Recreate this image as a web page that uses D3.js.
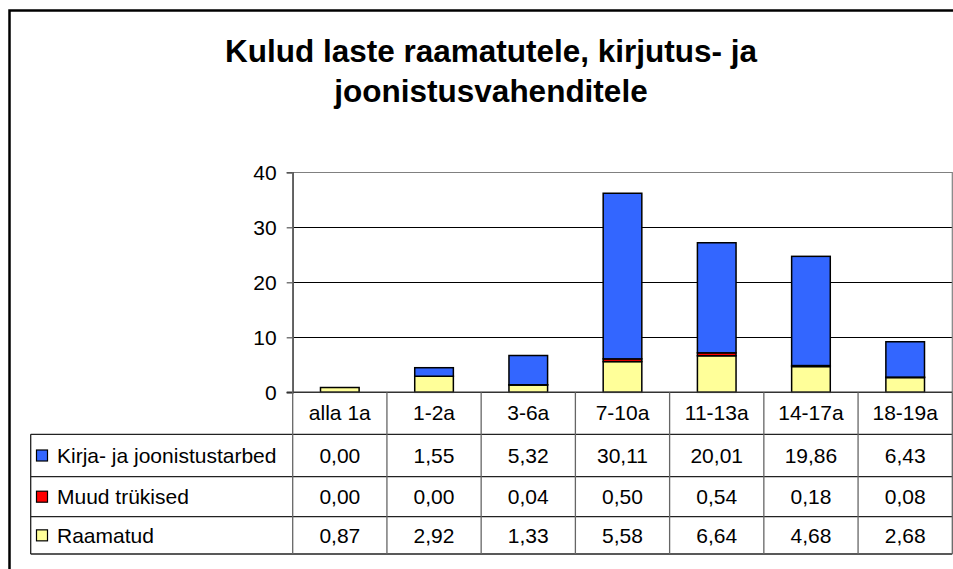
<!DOCTYPE html>
<html><head><meta charset="utf-8">
<script src="https://cdn.jsdelivr.net/npm/d3@7"></script>
<style>
html,body{margin:0;padding:0;background:#fff;overflow:hidden;}
svg{display:block;font-family:"Liberation Sans",Arial,sans-serif;}
</style></head>
<body>
<svg id="chart" width="953" height="569"></svg>
<script>
const titleLines = ["Kulud laste raamatutele, kirjutus- ja", "joonistusvahenditele"];
const categories = ["alla 1a", "1-2a", "3-6a", "7-10a", "11-13a", "14-17a", "18-19a"];
const seriesNames = ["Kirja- ja joonistustarbed", "Muud trükised", "Raamatud"];
const seriesColors = ["#3366FF", "#FF0000", "#FFFF99"];
const kirjaValues = [0.00, 1.55, 5.32, 30.11, 20.01, 19.86, 6.43];
const muudValues = [0.00, 0.00, 0.04, 0.50, 0.54, 0.18, 0.08];
const raamatudValues = [0.87, 2.92, 1.33, 5.58, 6.64, 4.68, 2.68];
const yTicks = [0, 10, 20, 30, 40];

const seriesValues = [kirjaValues, muudValues, raamatudValues];
const svg = d3.select("#chart");
const FS = 21;

// frame
svg.append("path").attr("d", "M9.5,600 L9.5,10.5 L1000,10.5")
  .attr("fill", "none").attr("stroke", "#000").attr("stroke-width", 2.5);

// title
titleLines.forEach((t, i) => {
  svg.append("text").attr("x", 491).attr("y", 62 + i * 40)
    .attr("text-anchor", "middle").attr("font-weight", "bold")
    .attr("font-size", 31.5).attr("fill", "#000").text(t);
});

const plotL = 292.7, plotR = 952.3, plotT = 172.3, plotB = 392.3;
const x = d3.scaleBand().domain(categories).range([plotL, plotR]).paddingInner(0).paddingOuter(0);
const y = d3.scaleLinear().domain([0, 40]).range([plotB, plotT]);

// gridlines
svg.append("g").selectAll("line").data(yTicks.filter(d => d > 0 && d < 40)).join("line")
  .attr("x1", plotL).attr("x2", plotR)
  .attr("y1", d => Math.round(y(d)) + 0.5).attr("y2", d => Math.round(y(d)) + 0.5)
  .attr("stroke", "#000").attr("stroke-width", 1);

// plot border top & right (gray)
svg.append("path")
  .attr("d", `M${plotL},${Math.round(plotT)+0.5} L${plotR},${Math.round(plotT)+0.5} L${plotR},${plotB}`)
  .attr("fill", "none").attr("stroke", "#808080").attr("stroke-width", 1.2);

// stacked bars (bottom: Raamatud, then Muud, then Kirja)
const stackOrder = [2, 1, 0];
const barW = x.bandwidth() * 0.41;
categories.forEach((c, ci) => {
  let base = 0;
  stackOrder.forEach(si => {
    const v = seriesValues[si][ci];
    if (v <= 0) return;
    const y0 = y(base), y1 = y(base + v);
    svg.append("rect")
      .attr("x", x(c) + (x.bandwidth() - barW) / 2)
      .attr("y", y1).attr("width", barW).attr("height", y0 - y1)
      .attr("fill", seriesColors[si]).attr("stroke", "#000").attr("stroke-width", 1.5);
    base += v;
  });
});

// y axis
const yAxis = d3.axisLeft(y).tickValues(yTicks).tickSize(6).tickPadding(10);
const gy = svg.append("g").attr("transform", `translate(${plotL},0)`).call(yAxis);
gy.select(".domain").attr("stroke", "#555").attr("stroke-width", 1.5);
gy.selectAll(".tick line").attr("stroke", "#555").attr("stroke-width", 1.2);
gy.selectAll(".tick text").attr("font-size", FS).attr("fill", "#000")
  .attr("font-family", "'Liberation Sans',Arial,sans-serif");

// data table
const tblL = 30.7;
const rowY = [392.3, 434.3, 476.7, 516.7, 554];
svg.append("line").attr("x1", plotL - 6).attr("x2", plotR).attr("y1", plotB).attr("y2", plotB)
  .attr("stroke", "#333").attr("stroke-width", 1.5);
[1, 2, 3, 4].forEach(i => {
  svg.append("line").attr("x1", tblL).attr("x2", plotR)
    .attr("y1", rowY[i]).attr("y2", rowY[i]).attr("stroke", "#222").attr("stroke-width", 1.3);
});
const vx = categories.map(c => x(c)).concat([plotR]);
vx.forEach((vv, i) => {
  svg.append("line").attr("x1", vv).attr("x2", vv)
    .attr("y1", i === 0 ? plotT : rowY[0]).attr("y2", rowY[4])
    .attr("stroke", "#666").attr("stroke-width", 1.3);
});
svg.append("line").attr("x1", tblL).attr("x2", tblL).attr("y1", rowY[1]).attr("y2", rowY[4])
  .attr("stroke", "#222").attr("stroke-width", 1.3);

categories.forEach(c => {
  svg.append("text").attr("x", x(c) + x.bandwidth() / 2).attr("y", (rowY[0] + rowY[1]) / 2 + 7)
    .attr("text-anchor", "middle").attr("font-size", FS).attr("fill", "#000").text(c);
});

const fmt = v => d3.format(".2f")(v).replace(".", ",");
seriesNames.forEach((name, si) => {
  const cy = (rowY[si + 1] + rowY[si + 2]) / 2;
  svg.append("rect").attr("x", 36.5).attr("y", cy - 5.5).attr("width", 11).attr("height", 11)
    .attr("fill", seriesColors[si]).attr("stroke", "#000").attr("stroke-width", 1.2);
  svg.append("text").attr("x", 57).attr("y", cy + 7.5).attr("font-size", FS).attr("fill", "#000").text(name);
  categories.forEach((c, ci) => {
    svg.append("text").attr("x", x(c) + x.bandwidth() / 2).attr("y", cy + 7.5)
      .attr("text-anchor", "middle").attr("font-size", FS).attr("fill", "#000")
      .text(fmt(seriesValues[si][ci]));
  });
});
</script>
</body></html>
